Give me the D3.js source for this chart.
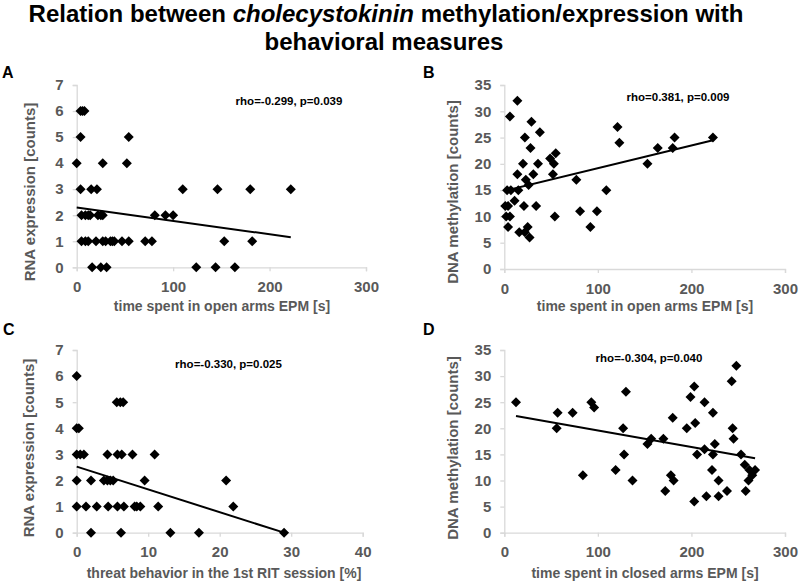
<!DOCTYPE html>
<html><head><meta charset="utf-8">
<script src="https://cdn.jsdelivr.net/npm/d3@7"></script>
<style>body{margin:0;background:#fff}svg{display:block}</style>
</head><body>
<svg id="c" width="800" height="583"></svg>
<script>
// ---------- data ----------
const titleLine1 = ["Relation between ", "cholecystokinin", " methylation/expression with"];
const titleLine2 = "behavioral measures";

// Panel A: time in open arms vs RNA expression
const aX = [4,6,8, 4,54, 0,27,52, 4,15,21,110,146,180,222, 5,9,12,14,22,25,27,81,92,100,
            5,9,12,20,27,30,35,37,39,47,54,71,78,153,182, 16,25,31,124,144,164];
const aY = [6,6,6, 5,5, 4,4,4, 3,3,3,3,3,3,3, 2,2,2,2,2,2,2,2,2,2,
            1,1,1,1,1,1,1,1,1,1,1,1,1,1,1, 0,0,0,0,0,0];
const aTrend = [2.30, -0.00516];
const aStat = "rho=-0.299, p=0.039";

// Panel B: time in open arms vs DNA methylation
const bX = [14,6,29,38,22,28,20,36,49,55,53,14,31,52,23,26,3,7,15,77,109,11,1,4,21,34,2,6,4,54,81,99,92,25,16,22,27,
            121,123,153,164,180,182,223];
const bY = [32,29,28,26,25,23,20,20,21,22,20,18,18,18,17,16,15,15,15,17,15,13,12,12,12,12,10,10,8,10,11,11,8,8,7,7,6,
            27,24,20,23,23,25,25];
const bTrend = [14.85, 0.0433];
const bStat = "rho=0.381, p=0.009";

// Panel C: threat behavior vs RNA expression
const cX = [0, 5.6,6.1,6.5, 0,0.3, 0,0.5,1,4.3,5.7,6.3,7.8,10.9, 0,2,3.8,4.3,4.7,5.1,9.5,20.9,
            0,1.3,2.8,4.4,5.7,6.6,8.1,8.4,8.9,11.4,21.9, 2,6.2,13.1,17.1,29];
const cY = [6, 5,5,5, 4,4, 3,3,3,3,3,3,3,3, 2,2,2,2,2,2,2,2,
            1,1,1,1,1,1,1,1,1,1,1, 0,0,0,0,0];
const cTrend = [2.53, -0.0872];
const cStat = "rho=-0.330, p=0.025";

// Panel D: time in closed arms vs DNA methylation
const dX = [12.5,57,73,56,84,93,96,127,130,119,128,137,153,157,170,172,178,181,180,195,199,203,204,206,203,214,214,216,
            223,223,225,222,229,229,238,243,248,244,245,253,257,262,268,265,261,258];
const dY = [25,23,23,20,11,25,24,20,27,12,15,10,17,18,18,8,11,10,22,20,26,28,21,15,6,25,16,7,
            23,15,17,12,10,7,8,29,32,20,18,15,13,12,12,11,10,8];
const dTrend = [22.75, -0.0316];
const dStat = "rho=-0.304, p=0.040";

const xLabelOpen = "time spent in open arms EPM [s]";
const xLabelThreat = "threat behavior in the 1st RIT session [%]";
const xLabelClosed = "time spent in closed arms EPM [s]";
const yLabelRNA = "RNA expression [counts]";
const yLabelDNA = "DNA methylation [counts]";

// ---------- drawing ----------
const svg = d3.select("#c");
const FONT = "'Liberation Sans', Arial, sans-serif";
const GRAY = "#595959";

const t1 = svg.append("text").attr("x", 386).attr("y", 22).attr("text-anchor", "middle")
  .attr("font-family", FONT).attr("font-weight", "bold").attr("font-size", 24).attr("fill", "#000");
titleLine1.forEach((s, i) => t1.append("tspan").attr("font-style", i === 1 ? "italic" : "normal").text(s));
svg.append("text").attr("x", 384).attr("y", 50).attr("text-anchor", "middle")
  .attr("font-family", FONT).attr("font-weight", "bold").attr("font-size", 24).attr("fill", "#000")
  .text(titleLine2);

const panels = [
  {letter:"A", lx:2, ly:78, X:aX, Y:aY, trend:aTrend, stat:aStat, sx:289, sy:105,
   xd:[0,300], xt:[0,100,200,300], yd:[0,7], yt:[0,1,2,3,4,5,6,7],
   xr:[76.7,366], yr:[267.3,85], xl:xLabelOpen, yl:yLabelRNA, xlx:222, xly:311, ylx:30, yly:192},
  {letter:"B", lx:423, ly:78, X:bX, Y:bY, trend:bTrend, stat:bStat, sx:678, sy:101,
   xd:[0,300], xt:[0,100,200,300], yd:[0,35], yt:[0,5,10,15,20,25,30,35],
   xr:[504.3,785], yr:[269,85], xl:xLabelOpen, yl:yLabelDNA, xlx:645, xly:311, ylx:453, yly:192},
  {letter:"C", lx:3, ly:335, X:cX, Y:cY, trend:cTrend, stat:cStat, sx:228.5, sy:368,
   xd:[0,40], xt:[0,10,20,30,40], yd:[0,7], yt:[0,1,2,3,4,5,6,7],
   xr:[76.7,362.7], yr:[532.7,350], xl:xLabelThreat, yl:yLabelRNA, xlx:224, xly:578, ylx:29, yly:448},
  {letter:"D", lx:423, ly:335, X:dX, Y:dY, trend:dTrend, stat:dStat, sx:649, sy:362,
   xd:[0,300], xt:[0,100,200,300], yd:[0,35], yt:[0,5,10,15,20,25,30,35],
   xr:[504.3,785], yr:[532.7,350], xl:xLabelClosed, yl:yLabelDNA, xlx:645, xly:578, ylx:453, yly:448}
];

const diamond = d3.symbol().type(d3.symbolSquare).size(50)();

panels.forEach(p => {
  const g = svg.append("g");
  const x = d3.scaleLinear().domain(p.xd).range(p.xr);
  const y = d3.scaleLinear().domain(p.yd).range(p.yr);

  g.append("text").attr("x", p.lx).attr("y", p.ly).attr("font-family", FONT)
    .attr("font-weight", "bold").attr("font-size", 16).attr("fill", "#000").text(p.letter);

  const xa = g.append("g").attr("transform", `translate(0,${p.yr[0]})`)
    .call(d3.axisBottom(x).tickValues(p.xt).tickSize(4).tickPadding(10).tickFormat(d3.format("d")));
  const ya = g.append("g").attr("transform", `translate(${p.xr[0]},0)`)
    .call(d3.axisLeft(y).tickValues(p.yt).tickSize(4).tickPadding(9).tickFormat(d3.format("d")));
  [xa, ya].forEach(a => {
    a.select(".domain").attr("stroke", "#d9d9d9").attr("stroke-width", 1.3);
    a.selectAll(".tick line").attr("stroke", "#d9d9d9").attr("stroke-width", 1.3);
    a.selectAll(".tick text").attr("fill", GRAY).attr("font-family", FONT)
      .attr("font-weight", "bold").attr("font-size", 15);
  });

  g.append("text").attr("x", p.xlx).attr("y", p.xly).attr("text-anchor", "middle")
    .attr("font-family", FONT).attr("font-weight", "bold").attr("font-size", 14)
    .attr("fill", GRAY).text(p.xl);
  g.append("text").attr("transform", `translate(${p.ylx},${p.yly}) rotate(-90)`)
    .attr("text-anchor", "middle").attr("dy", "0.35em")
    .attr("font-family", FONT).attr("font-weight", "bold").attr("font-size", 15)
    .attr("fill", GRAY).text(p.yl);

  const pts = p.X.map((v, i) => [v, p.Y[i]]);
  g.selectAll("path.pt").data(pts).join("path").attr("class", "pt")
    .attr("d", diamond)
    .attr("transform", d => `translate(${x(d[0])},${y(d[1])}) rotate(45)`)
    .attr("fill", "#000");

  const [b0, b1] = p.trend;
  const ext = d3.extent(p.X);
  g.append("path").datum(ext)
    .attr("d", d3.line().x(d => x(d)).y(d => y(b0 + b1 * d)))
    .attr("stroke", "#000").attr("stroke-width", 2).attr("fill", "none");

  g.append("text").attr("x", p.sx).attr("y", p.sy).attr("text-anchor", "middle")
    .attr("font-family", FONT).attr("font-weight", "bold").attr("font-size", 11.5)
    .attr("fill", "#000").text(p.stat);
});
</script>
</body></html>
